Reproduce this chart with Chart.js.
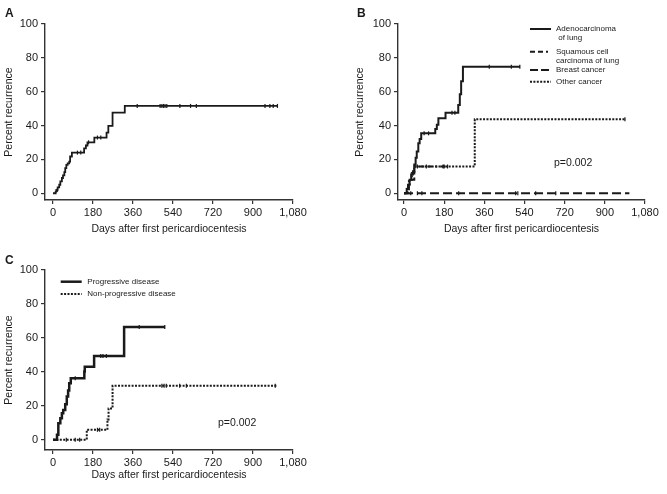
<!DOCTYPE html>
<html><head><meta charset="utf-8">
<script src="https://cdn.jsdelivr.net/npm/chart.js@4/dist/chart.umd.min.js"></script>
<style>
html,body{margin:0;padding:0;background:#fff;width:667px;height:494px;overflow:hidden;}
.p{position:absolute;}
</style></head><body>
<div class="p" style="left:0;top:0;width:333px;height:240px"><canvas id="cA"></canvas></div>
<div class="p" style="left:333px;top:0;width:334px;height:240px"><canvas id="cB"></canvas></div>
<div class="p" style="left:0;top:250px;width:333px;height:244px"><canvas id="cC"></canvas></div>
<script>
// ---- tick labels ----
const xTicks = [0, 180, 360, 540, 720, 900, 1080];
const yTicks = [0, 20, 40, 60, 80, 100];
const xTitle = 'Days after first pericardiocentesis';
const yTitle = 'Percent recurrence';

// ---- Panel A ----
const aDays = [0, 12, 15, 21, 28, 33, 40, 45, 51, 55, 60, 66, 73, 77, 85, 140, 148, 155, 186, 241, 249, 268, 323, 1010];
const aPct  = [0, 1, 2, 3.5, 5, 7, 9, 10.5, 12.5, 14.8, 16.7, 17.7, 18.7, 21.7, 24, 26.5, 28.2, 30.1, 32.9, 35.8, 39.8, 47.6, 51.6, 51.6];
const aCensor = [20, 110, 125, 160, 200, 215, 379, 482, 490, 497, 504, 512, 571, 619, 645, 954, 976, 991, 1010];

// ---- Panel B ----
const bSeries = ['Adenocarcinoma of lung', 'Squamous cell carcinoma of lung', 'Breast cancer', 'Other cancer'];
const bAdDays = [0, 12, 18, 25, 32, 40, 46, 52, 57, 64, 70, 77, 140, 147, 154, 186, 243, 250, 256, 264, 520];
const bAdPct  = [0, 2.5, 5, 8, 11, 13, 17, 21, 24.6, 29.5, 32, 35.4, 38, 40.5, 44.3, 47.6, 52.2, 58.5, 66.2, 74.8, 74.8];
const bAdCensor = [90, 110, 215, 228, 382, 481, 519];
const bSqDays = [0, 22, 46, 195];
const bSqPct  = [0, 8, 15.8, 15.8];
const bSqCensor = [60, 100, 180, 195];
const bBrDays = [0, 1010];
const bBrPct  = [0, 0];
const bBrCensor = [30, 60, 80, 245, 500, 510, 590, 680];
const bOtDays = [0, 15, 25, 35, 46, 317, 995];
const bOtPct  = [0, 4, 8, 12, 15.8, 43.7, 43.7];
const bOtCensor = [175, 990];
const bP = 'p=0.002';

// ---- Panel C ----
const cSeries = ['Progressive disease', 'Non-progressive disease'];
const cPrDays = [0, 9, 18, 24, 33, 40, 46, 55, 62, 68, 73, 80, 134, 141, 143, 185, 320, 504];
const cPrPct  = [0, 0, 3, 9.8, 12.7, 15.7, 17.6, 21, 25.5, 29, 33.3, 36.3, 36.3, 40.2, 43, 49.4, 66.5, 66.5];
const cPrCensor = [100, 215, 225, 240, 388, 503];
const cNpDays = [0, 152, 245, 250, 268, 1010];
const cNpPct  = [0, 5.9, 12, 18.5, 31.8, 31.8];
const cNpCensor = [60, 100, 120, 200, 210, 490, 500, 510, 570, 600, 1000];
const cP = 'p=0.002';

const INK = '#1a1a1a';
const FONT = '"Liberation Sans", Arial, sans-serif';

function pts(days, pct) { return days.map((d, i) => ({x: d, y: pct[i]})); }
function lookup(days, pct, t) {
  let v = pct[0];
  for (let i = 0; i < days.length; i++) { if (days[i] <= t) v = pct[i]; }
  return v;
}
function censorPts(days, pct, cens) { return cens.map(t => ({x: t, y: lookup(days, pct, t)})); }

function curve(days, pct, width, dash) {
  return {data: pts(days, pct), borderColor: INK, borderWidth: width, borderDash: dash,
          stepped: true, pointRadius: 0, fill: false, tension: 0};
}
function marks(days, pct, cens) {
  return {data: censorPts(days, pct, cens), showLine: false, pointStyle: 'line', rotation: 90,
          pointRadius: 2, pointBorderWidth: 1.2, borderColor: INK, pointBorderColor: INK, pointBackgroundColor: INK};
}

const annot = {
  id: 'annot',
  afterDraw(chart, args, o) {
    const ctx = chart.ctx, a = chart.chartArea;
    ctx.save();
    ctx.fillStyle = INK; ctx.strokeStyle = INK; ctx.textBaseline = 'middle'; ctx.textAlign = 'left';
    if (o.label) {
      ctx.font = 'bold 12px ' + FONT;
      ctx.fillText(o.label, o.label_x, o.label_y);
    }
    if (o.legend) {
      const L = o.legend;
      ctx.font = '8px ' + FONT;
      L.items.forEach((it, i) => {
        const y = a.top + L.ys[i];
        ctx.beginPath();
        ctx.lineWidth = it.w; ctx.setLineDash(it.dash);
        ctx.moveTo(a.left + L.x0, y); ctx.lineTo(a.left + L.x1, y); ctx.stroke();
        ctx.setLineDash([]);
        it.text.forEach((t, j) => ctx.fillText(t, a.left + L.tx, y + j * 8.7));
      });
    }
    if (o.p) {
      ctx.font = '10.5px ' + FONT;
      ctx.fillText(o.p, a.left + o.p_x, a.top + o.p_y);
    }
    ctx.restore();
  }
};

function makeChart(id, datasets, xmin, ymin, pad, yW, xH, ann) {
  return new Chart(document.getElementById(id), {
    type: 'line',
    data: {datasets},
    plugins: [annot],
    options: {
      responsive: true, maintainAspectRatio: false, animation: false, devicePixelRatio: 1,
      layout: {padding: pad},
      plugins: {legend: {display: false}, tooltip: {enabled: false}, annot: ann},
      scales: {
        x: {
          type: 'linear', min: xmin, max: 1080,
          afterBuildTicks: s => { s.ticks = xTicks.map(v => ({value: v})); },
          afterFit: s => { s.height = xH; },
          grid: {display: true, drawOnChartArea: false, drawTicks: true, tickLength: 4, color: '#333', lineWidth: 1.2},
          border: {display: true, color: '#333', width: 1.4},
          ticks: {font: {family: FONT, size: 11}, color: INK, padding: 2, maxRotation: 0,
                  callback: v => v.toLocaleString('en-US')},
          title: {display: true, text: xTitle, font: {family: FONT, size: 10.5}, color: INK, padding: {top: 0, bottom: 5}}
        },
        y: {
          type: 'linear', min: ymin, max: 100,
          afterBuildTicks: s => { s.ticks = yTicks.map(v => ({value: v})); },
          afterFit: s => { s.width = yW; },
          grid: {display: true, drawOnChartArea: false, drawTicks: true, tickLength: 4, color: '#333', lineWidth: 1.2},
          border: {display: true, color: '#333', width: 1.4},
          ticks: {font: {family: FONT, size: 11}, color: INK, padding: 3},
          title: {display: true, text: yTitle, font: {family: FONT, size: 10.5}, color: INK, padding: {top: 3, bottom: 0}}
        }
      }
    }
  });
}

makeChart('cA', [
  curve(aDays, aPct, 1.8, []),
  marks(aDays, aPct, aCensor)
], -36, -4, {left: 0, top: 24, right: 40, bottom: 0}, 45, 40,
{label: 'A', label_x: 5, label_y: 14});

makeChart('cB', [
  curve(bBrDays, bBrPct, 2, [9, 4]),
  curve(bSqDays, bSqPct, 2, [5, 3, 5, 3, 2, 3]),
  curve(bOtDays, bOtPct, 2, [2, 1.4]),
  curve(bAdDays, bAdPct, 2, []),
  marks(bBrDays, bBrPct, bBrCensor),
  marks(bSqDays, bSqPct, bSqCensor),
  marks(bOtDays, bOtPct, bOtCensor),
  marks(bAdDays, bAdPct, bAdCensor)
], -27, -4, {left: 18, top: 24, right: 22, bottom: 0}, 47, 40,
{label: 'B', label_x: 24, label_y: 14,
 legend: {x0: 132, x1: 153, tx: 158, ys: [5, 27.7, 46, 57.7], items: [
   {text: ['Adenocarcinoma', ' of lung'], w: 2, dash: []},
   {text: ['Squamous cell', 'carcinoma of lung'], w: 2, dash: [5, 3, 5, 3, 2, 3]},
   {text: [bSeries[2]], w: 2, dash: [8, 3]},
   {text: [bSeries[3]], w: 2, dash: [2, 1.4]}
 ]},
 p: bP, p_x: 156, p_y: 139.3});

makeChart('cC', [
  curve(cNpDays, cNpPct, 2, [2, 1.4]),
  curve(cPrDays, cPrPct, 2.5, []),
  marks(cNpDays, cNpPct, cNpCensor),
  marks(cPrDays, cPrPct, cPrCensor)
], -36, -6, {left: 0, top: 20, right: 40, bottom: 8}, 45, 36,
{label: 'C', label_x: 5, label_y: 10.5,
 legend: {x0: 15.7, x1: 36.7, tx: 42.3, ys: [11.7, 24], items: [
   {text: [cSeries[0]], w: 2.5, dash: []},
   {text: [cSeries[1]], w: 2, dash: [2, 1.4]}
 ]},
 p: cP, p_x: 173, p_y: 153.3});
</script>
</body></html>
